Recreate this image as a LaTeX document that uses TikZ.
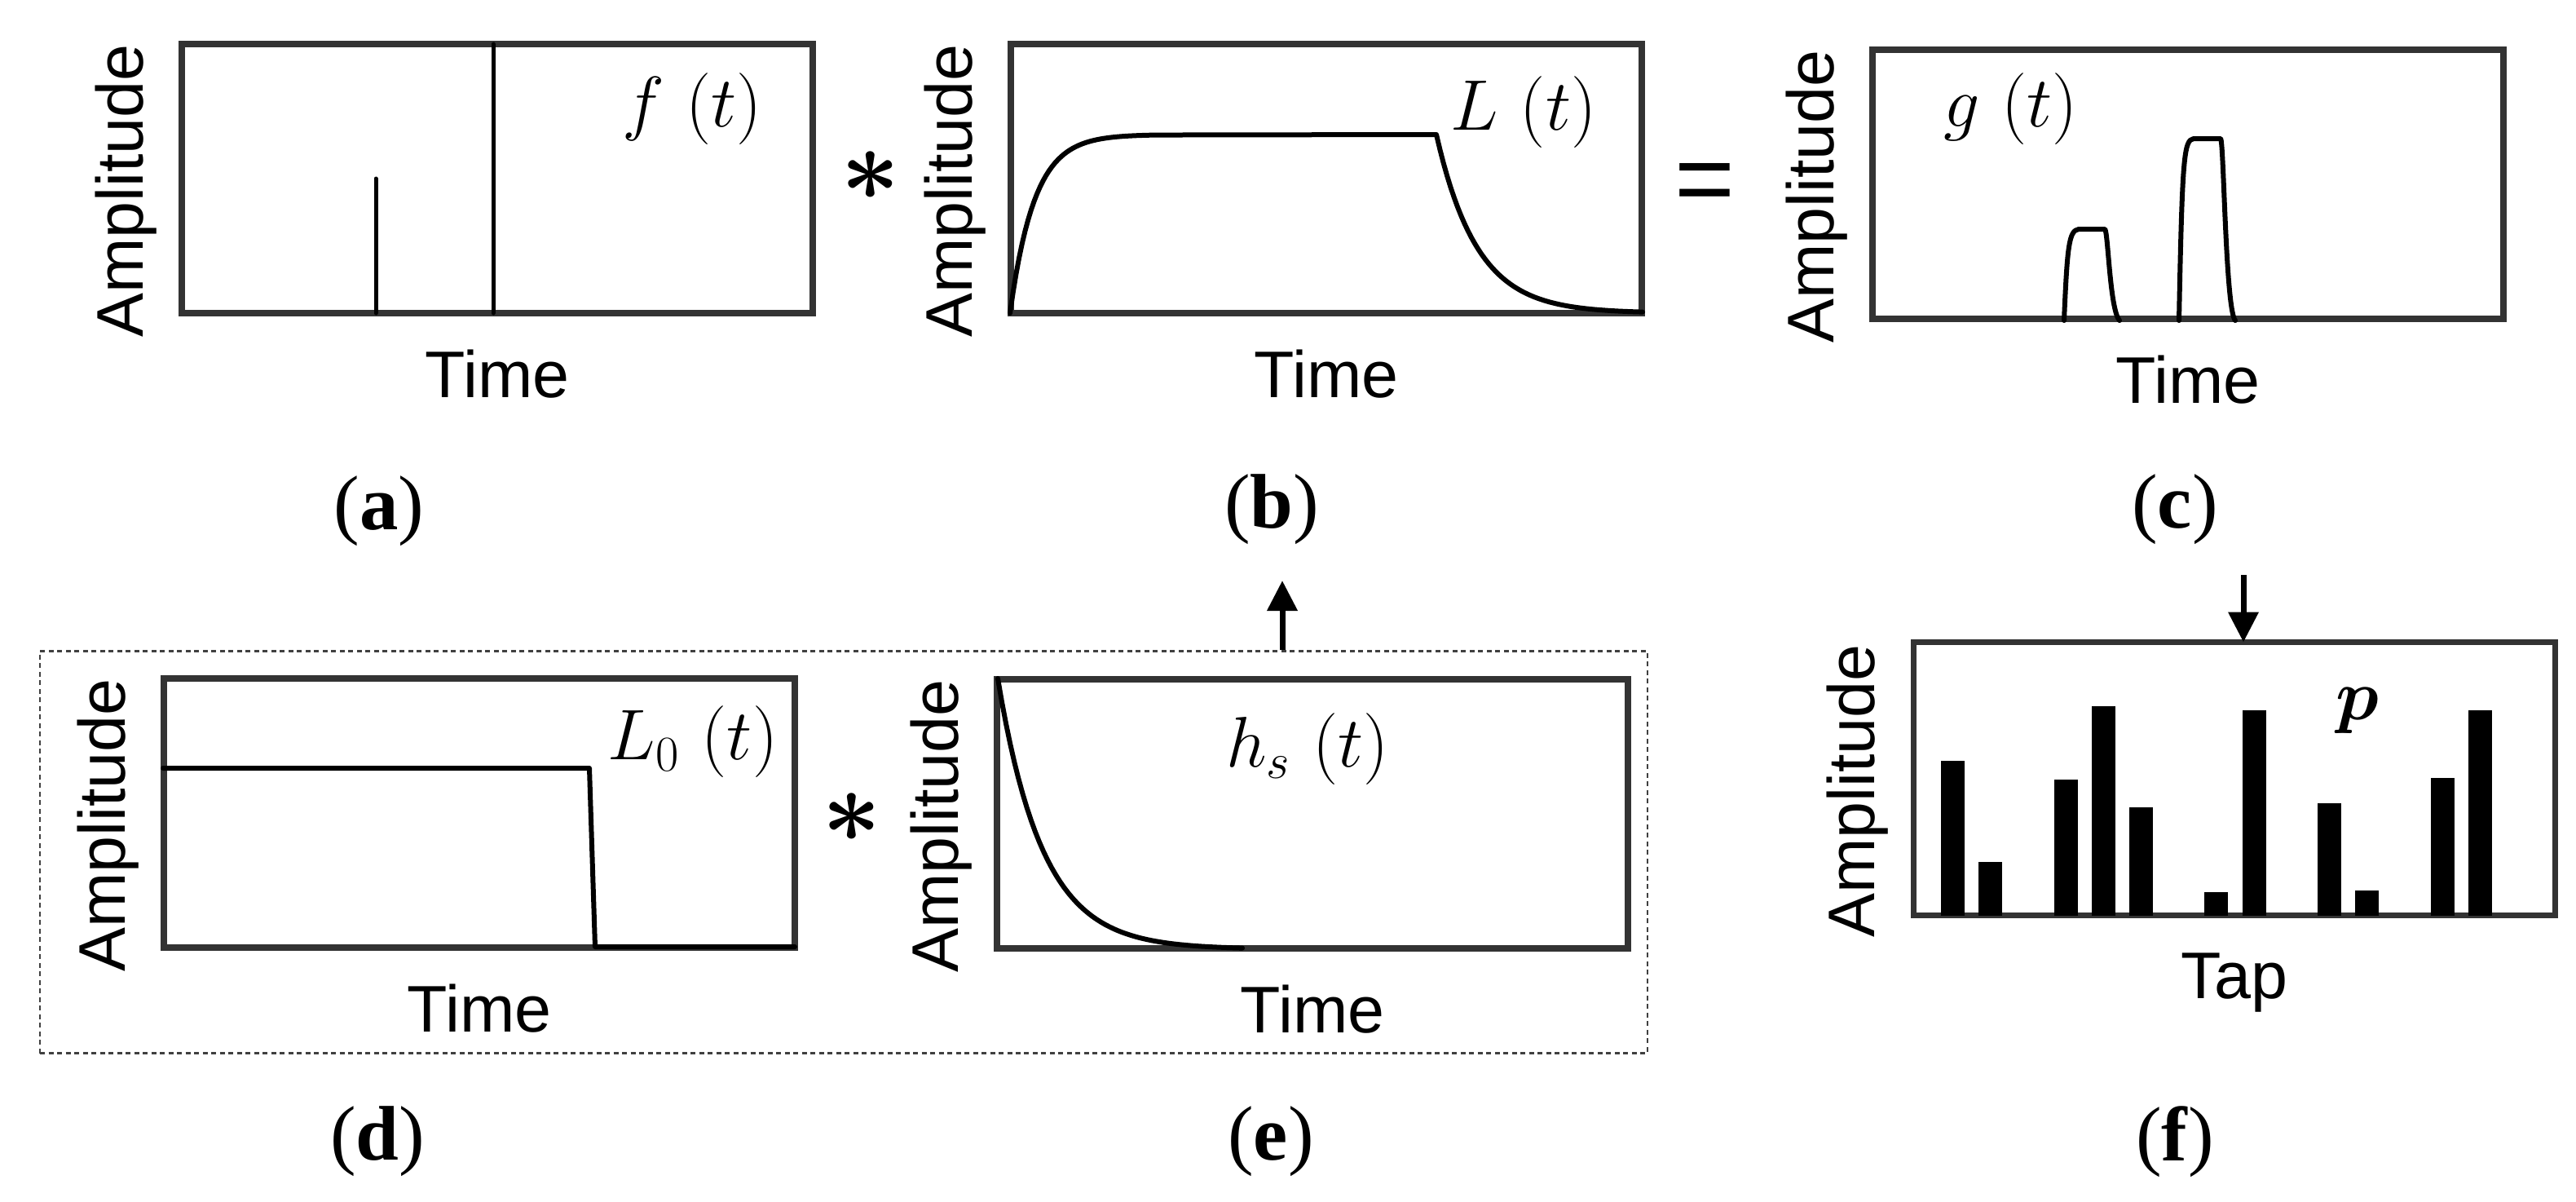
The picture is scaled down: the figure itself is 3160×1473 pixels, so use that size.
\documentclass[tikz,border=0pt]{standalone}
\usepackage{fix-cm}
\usepackage{amsmath}
\usepackage[no-math]{fontspec}
\newfontfamily\axisfont{Liberation Sans}
\newfontfamily\capfont{Liberation Serif}
\usepackage{tikz}
\usetikzlibrary{positioning,arrows.meta}
\def\boxwidth{77.4mm}
\def\boxheight{33mm}
\tikzstyle{plotbox}=[draw=black!80,line width=0.75mm,inner sep=0pt,outer sep=0pt,
    minimum width=\boxwidth,minimum height=\boxheight]
\tikzstyle{dashframe}=[draw=black!75,line width=0.25mm,dash pattern=on 0.6mm off 0.45mm,
    inner sep=0pt,minimum width=197.2mm,minimum height=49.3mm]
\tikzstyle{curve}=[line width=0.6mm,line join=round,line cap=round]
\tikzstyle{signal}=[-{Triangle[length=3.7mm,width=3.6mm]},line width=0.7mm]
\tikzstyle{ylab}=[rotate=90,anchor=base,inner sep=0pt,font=\axisfont\fontsize{23}{23}\selectfont]
\tikzstyle{xlab}=[anchor=base,inner sep=0pt,font=\axisfont\fontsize{23}{23}\selectfont]
\tikzstyle{fname}=[inner sep=0pt,font=\fontsize{25}{25}\selectfont]
\tikzstyle{sublabel}=[inner sep=0pt,font=\capfont\fontsize{27}{27}\selectfont]
\tikzstyle{conv}=[inner sep=0pt,font=\fontsize{36}{36}\selectfont]
\tikzstyle{equal}=[inner sep=0pt,font=\axisfont\fontsize{36}{36}\selectfont]

\begin{document}
\begin{tikzpicture}[x=0.1mm,y=-0.1mm]
\useasboundingbox (0,0) rectangle (3160,1473);
% top row
\node[plotbox] (boxa) at (610,219) {};
\node[plotbox] (boxb) at (1627,219) {};
\node[plotbox] (boxc) at (2684,226) {};
% bottom row
\node[dashframe] (frame) at (1035,1045) {};
\node[plotbox] (boxd) at (588,997) {};
\node[plotbox] (boxe) at (1610,998) {};
\node[plotbox,minimum width=78.7mm,minimum height=33.5mm] (boxf) at (2741,955) {};
\foreach \b in {a,b,c,d,e,f}
    \node[ylab] (amp\b) at ([xshift=-4.8mm,yshift=-1.5mm]box\b.west) {Amplitude};
\foreach \b in {a,b,c,d,e}
    \node[xlab] (time\b) at ([yshift=-10.3mm]box\b.south) {Time};
\node[xlab] (tapf) at ([yshift=-10.2mm]boxf.south) {Tap};
% signals
\draw[curve,line width=0.5mm] (461,384) -- (461,219);
\draw[curve,line width=0.5mm] (605,384) -- (605,54);
\draw[curve] plot[domain=0:180,samples=50] ({1239+\x},{165+219*exp(-\x/30)})
    -- (1762,165) -- plot[domain=0:253,samples=60] ({1762+\x},{384-219*exp(-\x/50)});
\draw[curve] (2532,393) .. controls (2536,300) and (2538,283) .. (2550,281) -- (2582,281)
    .. controls (2586,283) and (2588,380) .. (2600,393);
\draw[curve] (2673,393) .. controls (2677,190) and (2679,172) .. (2691,170) -- (2724,170)
    .. controls (2728,172) and (2730,380) .. (2742,393);
\draw[curve] (200,942) -- (723,942) -- (730,1161) -- (975,1161);
\draw[curve] plot[domain=0:300,samples=60] ({1224+\x},{1164-332*exp(-\x/55)});
\foreach \k/\h in {0/933,1/1057,3/956,4/866,5/990,7/1094,8/871,10/985,11/1092,13/954,14/871}
    \fill (2381+46.2*\k,\h) rectangle (2410+46.2*\k,1123);
% names
\node[fname] (lfa) at (849,134) {$f\ (t)$};
\node[fname] (lfb) at (1869,138) {$L\ (t)$};
\node[fname] (lfc) at (2467,134) {$g\ (t)$};
\node[fname] (lfd) at (850,910) {$L_0\ (t)$};
\node[fname] (lfe) at (1604,919) {$h_s\ (t)$};
\node[fname] (lff) at (2892,872) {$\boldsymbol{p}$};
\node[conv] (conva) at (1068,216) {$\boldsymbol{\ast}$};
\node[conv] (convd) at (1045,1003) {$\boldsymbol{\ast}$};
\node[equal] (eqc) at (2091,231) {=};
\node[sublabel] (capa) at (465,627) {(\textbf{a})};
\node[sublabel] (capb) at (1560,625) {(\textbf{b})};
\node[sublabel] (capc) at (2668,625) {(\textbf{c})};
\node[sublabel] (capd) at (463,1400) {(\textbf{d})};
\node[sublabel] (cape) at (1559,1400) {(\textbf{e})};
\node[sublabel] (capf) at (2668,1400) {(\textbf{f})};
% arrows
\coordinate (upend) at (1573,712);
\draw[signal] (upend |- frame.north) -- (upend);
\coordinate (downstart) at (2752,705);
\draw[signal] (downstart) -- (downstart |- boxf.north);
\end{tikzpicture}
\end{document}
